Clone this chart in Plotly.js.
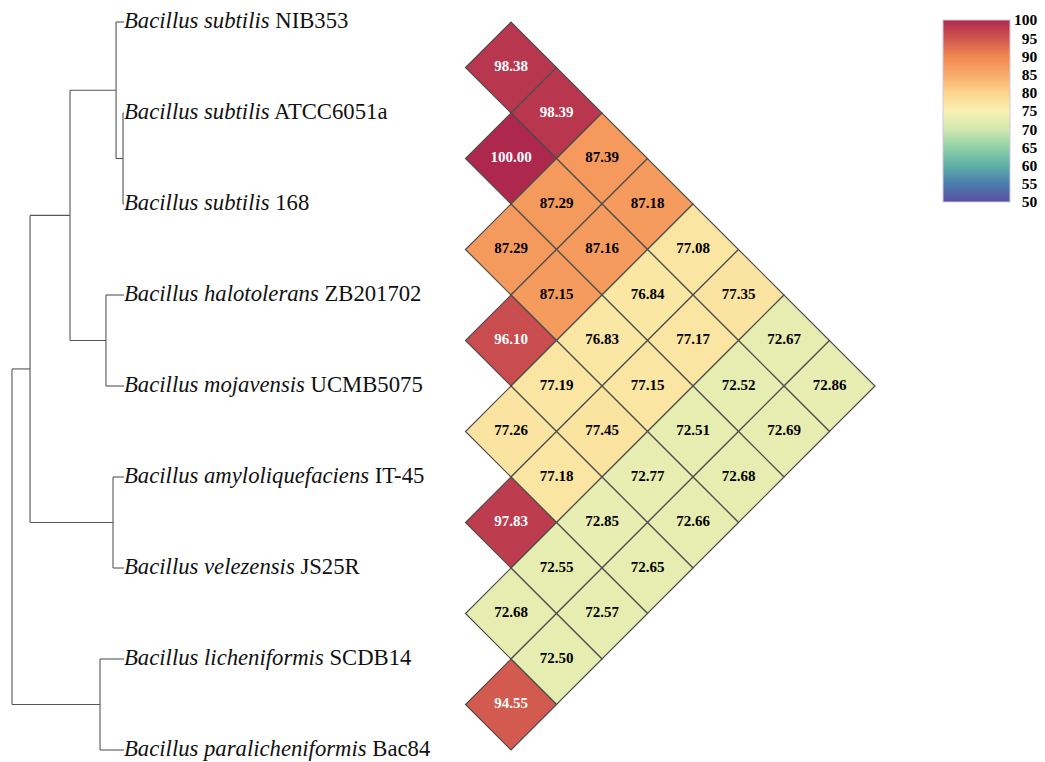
<!DOCTYPE html>
<html><head><meta charset="utf-8">
<script src="https://cdn.plot.ly/plotly-3.0.1.min.js"></script>
<style>html,body{margin:0;padding:0;background:#fff}#chart{width:1045px;height:762px}</style>
</head><body><div id="chart"></div>
<script>
// ---- data ----
const taxaItalic = ['Bacillus subtilis', 'Bacillus subtilis', 'Bacillus subtilis', 'Bacillus halotolerans',
  'Bacillus mojavensis', 'Bacillus amyloliquefaciens', 'Bacillus velezensis', 'Bacillus licheniformis',
  'Bacillus paralicheniformis'];
const taxaStrain = ['NIB353', 'ATCC6051a', '168', 'ZB201702', 'UCMB5075', 'IT-45', 'JS25R', 'SCDB14', 'Bac84'];

// upper triangle of ANI matrix: row i holds values vs taxa i+1 .. 9
const aniUpper = [
  [98.38, 98.39, 87.39, 87.18, 77.08, 77.35, 72.67, 72.86],
  [100.00, 87.29, 87.16, 76.84, 77.17, 72.52, 72.69],
  [87.29, 87.15, 76.83, 77.15, 72.51, 72.68],
  [96.10, 77.19, 77.45, 72.77, 72.66],
  [77.26, 77.18, 72.85, 72.65],
  [97.83, 72.55, 72.57],
  [72.68, 72.50],
  [94.55]
];

// dendrogram: internal nodes, depth from root (leaves at 1), children
const nodeIds = ['root', 'n1', 'n2', 'n3', 'n4', 'n5', 'n6', 'n7'];
const nodeDepth = [0, 0.161, 0.518, 0.929, 0.991, 0.839, 0.902, 0.786];
const nodeKids = [['n1', 'n7'], ['n2', 'n6'], ['n3', 'n5'], ['L0', 'n4'], ['L1', 'L2'], ['L3', 'L4'], ['L5', 'L6'], ['L7', 'L8']];

const scaleTicks = [50, 55, 60, 65, 70, 75, 80, 85, 90, 95, 100];
const scaleColors = ['#5b4f9f', '#4a7db0', '#5fb0a6', '#8fd0a6', '#d2e8b0', '#f9f1b2',
  '#fdd58d', '#f8aa68', '#f1874f', '#d0564f', '#ae284d'];

// ---- build ----
const FONT = 'Liberation Serif, Times New Roman, serif';

function pos(id) {
  if (id[0] === 'L') return {x: 1, y: +id.slice(1) + 1};
  const k = nodeIds.indexOf(id);
  const kids = nodeKids[k].map(pos);
  return {x: nodeDepth[k], y: (kids[0].y + kids[kids.length - 1].y) / 2};
}
const tx = [], ty = [];
nodeIds.forEach((id, k) => {
  const p = pos(id);
  const kids = nodeKids[k].map(pos);
  tx.push(p.x, p.x, null); ty.push(kids[0].y, kids[kids.length - 1].y, null);
  kids.forEach(c => { tx.push(p.x, c.x, null); ty.push(c.y, c.y, null); });
});

const cx = [], cy = [], cv = [], ct = [], cc = [];
aniUpper.forEach((row, i) => {
  row.forEach((v, k) => {
    const j = i + 1 + k;
    cx.push(j - i);
    cy.push((i + 1 + j + 1) / 2);
    cv.push(v);
    ct.push(v.toFixed(2));
    cc.push(v >= 90 ? '#ffffff' : '#000000');
  });
});

const cscale = scaleColors.map((c, k) => [(scaleTicks[k] - 50) / 50, c]);

const traces = [
  {type: 'scatter', mode: 'lines', x: tx, y: ty, xaxis: 'x', yaxis: 'y',
   line: {color: '#555555', width: 1.1}, hoverinfo: 'skip'},
  {type: 'scatter', mode: 'text', x: taxaStrain.map(() => 1), y: taxaStrain.map((s, k) => k + 1),
   text: taxaStrain.map((s, k) => '<i>' + taxaItalic[k] + '</i> ' + s),
   textposition: 'middle right', xaxis: 'x', yaxis: 'y', cliponaxis: false,
   textfont: {family: FONT, size: 22.7, color: '#111111'}, hoverinfo: 'skip'},
  {type: 'scatter', mode: 'markers+text', x: cx, y: cy, xaxis: 'x2', yaxis: 'y',
   text: ct, textposition: 'middle center', cliponaxis: false,
   textfont: {family: FONT, size: 15, weight: 'bold', color: cc},
   marker: {symbol: 'diamond', size: 70, color: cv, colorscale: cscale, cmin: 50, cmax: 100,
     opacity: 1, line: {color: '#4d4d4d', width: 1.2},
     showscale: true,
     colorbar: {x: 943 / 1045, xanchor: 'left', xref: 'paper', y: 1 - 20 / 762, yanchor: 'top', yref: 'paper',
       len: 182, lenmode: 'pixels', thickness: 67, thicknessmode: 'pixels', xpad: 0, ypad: 0,
       tickmode: 'array', tickvals: scaleTicks, ticktext: scaleTicks.map(v => String(v).padStart(3, '\u2007')),
       ticks: '', ticklen: 0,
       tickfont: {family: FONT, size: 15.5, weight: 'bold', color: '#000'},
       outlinewidth: 1, outlinecolor: '#cfc8e0'}},
   hoverinfo: 'skip'}
];

const layout = {
  width: 1045, height: 762, margin: {l: 0, r: 0, t: 0, b: 0, pad: 0},
  paper_bgcolor: '#ffffff', plot_bgcolor: 'rgba(0,0,0,0)', showlegend: false,
  xaxis: {range: [-12 / 112, 1033 / 112], visible: false, fixedrange: true},
  xaxis2: {range: [1 - 511 / 45.5, 1 + 534 / 45.5], visible: false, overlaying: 'x', anchor: 'y', fixedrange: true},
  yaxis: {range: [1 + 740 / 91, 1 - 22 / 91], visible: false, fixedrange: true}
};

Plotly.newPlot('chart', traces, layout, {displayModeBar: false, staticPlot: true});
</script>
</body></html>
